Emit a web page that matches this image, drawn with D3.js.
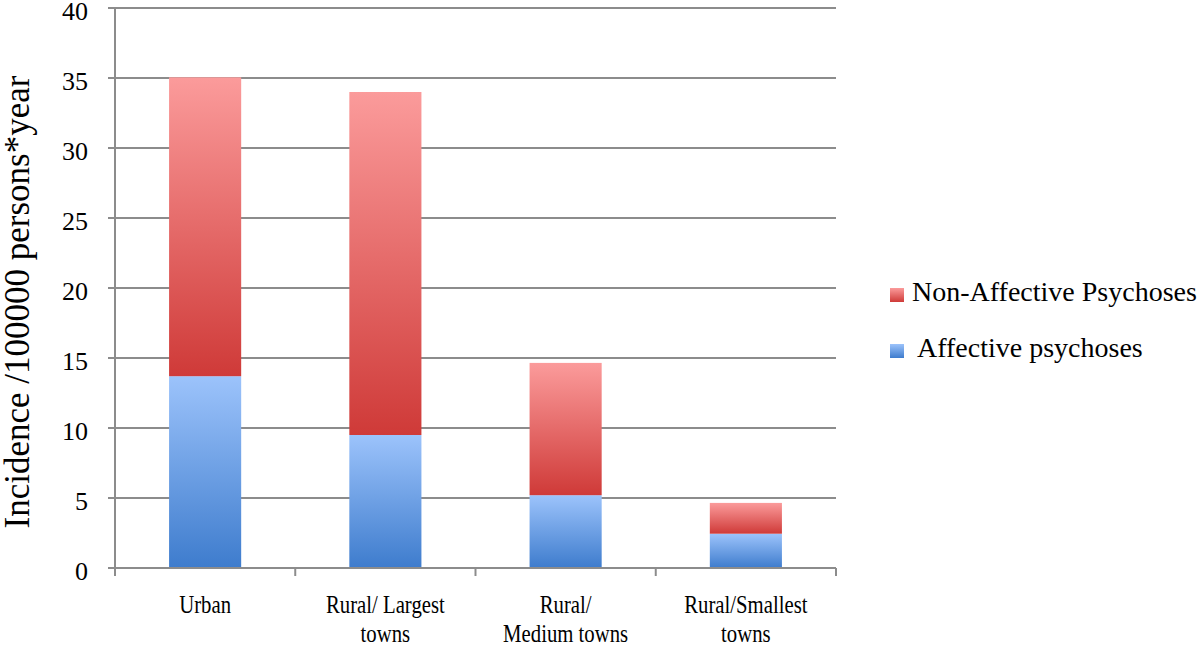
<!DOCTYPE html>
<html>
<head>
<meta charset="utf-8">
<script src="https://cdn.jsdelivr.net/npm/d3@7"></script>
<style>
  body { margin: 0; background: #fff; }
  svg text { font-family: "Liberation Serif", "DejaVu Serif", serif; }
</style>
</head>
<body>
<svg id="chart" width="1200" height="647"></svg>
<script>
// Data
const categories = ["Urban", "Rural/ Largest towns", "Rural/ Medium towns", "Rural/Smallest towns"];
const categoryLines = [["Urban"], ["Rural/ Largest", "towns"], ["Rural/", "Medium towns"], ["Rural/Smallest", "towns"]];
const affective = [13.7, 9.5, 5.2, 2.45];
const nonAffective = [21.35, 24.5, 9.45, 2.2];
const seriesNames = ["Affective psychoses", "Non-Affective Psychoses"];
const yTicks = [0, 5, 10, 15, 20, 25, 30, 35, 40];

const FONT = "Liberation Serif";
const svg = d3.select("#chart");
const margin = { top: 8, right: 364, bottom: 79, left: 115 };
const width = 1200 - margin.left - margin.right;
const height = 647 - margin.top - margin.bottom;

// Gradients: light on top, darker at bottom, one per series
const defs = svg.append("defs");
const grads = [
  { id: "blueGrad", top: "#9cc3fb", bottom: "#3e7ccd" },
  { id: "redGrad", top: "#fb9b9b", bottom: "#cf3a38" }
];
grads.forEach((g) => {
  const lg = defs.append("linearGradient")
    .attr("id", g.id)
    .attr("x1", 0).attr("y1", 0).attr("x2", 0).attr("y2", 1);
  lg.append("stop").attr("offset", "0%").attr("stop-color", g.top);
  lg.append("stop").attr("offset", "100%").attr("stop-color", g.bottom);
});

const g = svg.append("g").attr("transform", `translate(${margin.left},${margin.top})`);

const x = d3.scaleBand().domain(categories).range([0, width]).paddingInner(0.6).paddingOuter(0.3);
const y = d3.scaleLinear().domain([0, 40]).range([height, 0]);

// Gridlines
g.append("g")
  .selectAll("line")
  .data(yTicks)
  .enter().append("line")
  .attr("x1", -7)
  .attr("x2", width)
  .attr("y1", (d) => y(d))
  .attr("y2", (d) => y(d))
  .attr("stroke", "#8c8c8c")
  .attr("stroke-width", 2);

// Y tick labels
g.append("g")
  .selectAll("text")
  .data(yTicks)
  .enter().append("text")
  .attr("x", -27)
  .attr("y", (d) => y(d) + 3)
  .attr("dy", "0.35em")
  .attr("text-anchor", "end")
  .attr("font-family", FONT)
  .attr("font-size", "26px")
  .attr("fill", "#000")
  .text((d) => d);

// Stacked bars
const rows = categories.map((c, i) => ({ cat: c, a: affective[i], n: nonAffective[i] }));
const stack = d3.stack().keys(["a", "n"])(rows);
const fills = ["url(#blueGrad)", "url(#redGrad)"];

g.append("g")
  .selectAll("g")
  .data(stack)
  .enter().append("g")
  .attr("fill", (d, i) => fills[i])
  .selectAll("rect")
  .data((d) => d)
  .enter().append("rect")
  .attr("x", (d) => x(d.data.cat))
  .attr("width", x.bandwidth())
  .attr("y", (d) => y(d[1]))
  .attr("height", (d) => y(d[0]) - y(d[1]));

// Axes lines
g.append("line")
  .attr("x1", 0).attr("x2", 0)
  .attr("y1", 0).attr("y2", height)
  .attr("stroke", "#8c8c8c").attr("stroke-width", 2);

g.append("line")
  .attr("x1", 0).attr("x2", width)
  .attr("y1", height).attr("y2", height)
  .attr("stroke", "#8c8c8c").attr("stroke-width", 2);

// X tick marks at category boundaries
const bounds = d3.range(categories.length + 1).map((i) => i * width / categories.length);
g.append("g")
  .selectAll("line")
  .data(bounds)
  .enter().append("line")
  .attr("x1", (d) => d).attr("x2", (d) => d)
  .attr("y1", height).attr("y2", height + 8)
  .attr("stroke", "#8c8c8c").attr("stroke-width", 2);

// X labels (condensed serif, like the original)
const xl = g.append("g")
  .selectAll("text")
  .data(categories)
  .enter().append("text")
  .attr("text-anchor", "middle")
  .attr("font-family", FONT)
  .attr("font-size", "25px")
  .attr("fill", "#000")
  .attr("transform", (d) => `translate(${x(d) + x.bandwidth() / 2},${height + 45}) scale(0.83,1)`);

xl.selectAll("tspan")
  .data((d, i) => categoryLines[i])
  .enter().append("tspan")
  .attr("x", 0)
  .attr("dy", (d, i) => (i === 0 ? 0 : 29))
  .text((d) => d);

// Y axis title
svg.append("text")
  .attr("transform", "translate(29,302) rotate(-90)")
  .attr("text-anchor", "middle")
  .attr("font-family", FONT)
  .attr("font-size", "35px")
  .attr("fill", "#000")
  .text("Incidence /100000 persons*year");

// Legend (non-affective on top)
const legendItems = [
  { name: seriesNames[1], fill: fills[1], y: 288, tx: 912 },
  { name: seriesNames[0], fill: fills[0], y: 344, tx: 917 }
];
const lg = svg.append("g")
  .selectAll("g")
  .data(legendItems)
  .enter().append("g");

lg.append("rect")
  .attr("x", 890)
  .attr("y", (d) => d.y)
  .attr("width", 14)
  .attr("height", 14)
  .attr("fill", (d) => d.fill);

lg.append("text")
  .attr("x", (d) => d.tx)
  .attr("y", (d) => d.y + 13)
  .attr("font-family", FONT)
  .attr("font-size", "28px")
  .attr("fill", "#000")
  .text((d) => d.name);
</script>
</body>
</html>
